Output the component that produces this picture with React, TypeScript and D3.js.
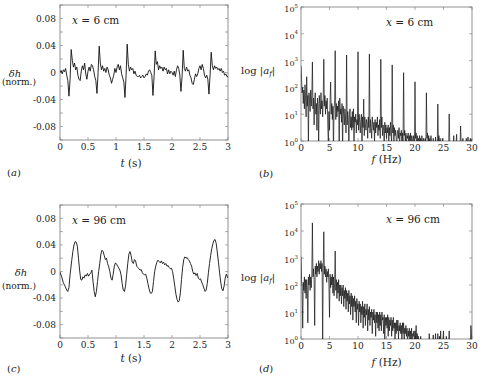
import React from "react";
import * as d3 from "d3";

// ---- data: time series (t in s, normalised δh) ----
const seriesA: [number, number][] = [
  [0.00,0.000],[0.02,0.003],[0.04,-0.002],[0.06,0.004],[0.08,0.001],[0.10,0.006],[0.12,-0.004],[0.14,-0.012],[0.16,-0.035],[0.18,-0.010],
  [0.20,0.034],[0.22,0.018],[0.24,0.008],[0.26,0.014],[0.28,0.004],[0.30,0.008],[0.32,-0.004],[0.34,-0.010],[0.36,-0.012],[0.38,0.002],
  [0.40,0.010],[0.42,0.004],[0.44,0.014],[0.46,-0.002],[0.48,-0.010],[0.50,0.002],[0.52,0.008],[0.54,0.002],[0.56,0.012],[0.58,0.010],
  [0.60,0.004],[0.62,-0.006],[0.64,-0.012],[0.66,-0.031],[0.68,0.000],[0.70,0.039],[0.72,0.014],[0.74,0.004],[0.76,0.010],[0.78,0.002],
  [0.80,0.006],[0.82,0.000],[0.84,0.008],[0.86,0.004],[0.88,-0.004],[0.90,-0.008],[0.92,-0.016],[0.94,-0.010],[0.96,-0.004],[0.98,0.006],
  [1.00,0.000],[1.02,0.008],[1.04,0.012],[1.06,0.004],[1.08,0.010],[1.10,-0.002],[1.12,-0.008],[1.14,-0.014],[1.16,-0.037],[1.18,-0.004],
  [1.20,0.042],[1.22,0.012],[1.24,0.002],[1.26,0.008],[1.28,0.004],[1.30,0.006],[1.32,-0.002],[1.34,0.002],[1.36,-0.004],[1.38,-0.006],
  [1.40,-0.006],[1.42,-0.004],[1.44,-0.008],[1.46,-0.006],[1.48,-0.004],[1.50,-0.008],[1.52,-0.006],[1.54,-0.002],[1.56,-0.004],[1.58,0.002],
  [1.60,0.004],[1.62,0.000],[1.64,-0.004],[1.66,-0.034],[1.68,-0.006],[1.70,0.032],[1.72,0.012],[1.74,0.016],[1.76,0.004],[1.78,0.010],
  [1.80,0.006],[1.82,0.008],[1.84,0.002],[1.86,0.008],[1.88,0.004],[1.90,0.006],[1.92,-0.002],[1.94,0.004],[1.96,-0.002],[1.98,0.002],
  [2.00,0.000],[2.02,-0.004],[2.04,0.002],[2.06,-0.006],[2.08,0.004],[2.10,0.010],[2.12,0.006],[2.14,-0.004],[2.16,-0.028],[2.18,-0.006],
  [2.20,0.033],[2.22,0.006],[2.24,0.002],[2.26,0.008],[2.28,0.002],[2.30,0.004],[2.32,-0.004],[2.34,-0.008],[2.36,-0.016],[2.38,-0.018],
  [2.40,-0.010],[2.42,-0.002],[2.44,-0.006],[2.46,-0.002],[2.48,0.006],[2.50,0.010],[2.52,0.004],[2.54,0.012],[2.56,0.006],[2.58,-0.004],
  [2.60,-0.008],[2.62,-0.004],[2.64,-0.010],[2.66,-0.032],[2.68,-0.004],[2.70,0.030],[2.72,0.010],[2.74,0.004],[2.76,0.010],[2.78,0.006],
  [2.80,0.008],[2.82,0.004],[2.84,0.006],[2.86,0.002],[2.88,0.006],[2.90,0.000],[2.92,0.002],[2.94,-0.004],[2.96,-0.002],[2.98,-0.006],
  [3.00,-0.006],
];

const seriesC: [number, number][] = [
  [0,-0.001],[0.03,-0.008],[0.06,-0.017],[0.09,-0.022],[0.12,-0.028],[0.14,-0.030],[0.16,-0.024],[0.18,-0.005],[0.21,0.017],[0.23,0.030],
  [0.25,0.040],[0.27,0.045],[0.29,0.044],[0.31,0.038],[0.33,0.020],[0.35,0.002],[0.37,-0.012],[0.39,-0.013],[0.41,-0.008],[0.43,-0.010],
  [0.45,-0.005],[0.47,-0.007],[0.49,-0.003],[0.51,-0.007],[0.53,-0.004],[0.55,-0.002],[0.57,0.002],[0.59,-0.015],[0.61,-0.030],[0.63,-0.038],
  [0.65,-0.030],[0.67,-0.015],[0.69,0.000],[0.71,0.012],[0.73,0.026],[0.75,0.032],[0.77,0.030],[0.79,0.024],[0.81,0.018],[0.83,0.020],
  [0.85,0.012],[0.87,0.007],[0.89,0.000],[0.91,-0.010],[0.93,-0.013],[0.95,-0.004],[0.97,0.008],[0.99,0.013],[1.01,0.011],[1.03,0.008],
  [1.05,0.005],[1.07,0.002],[1.09,-0.005],[1.11,-0.018],[1.13,-0.028],[1.15,-0.030],[1.17,-0.022],[1.19,-0.005],[1.21,0.012],[1.23,0.026],
  [1.25,0.030],[1.27,0.024],[1.29,0.014],[1.31,0.012],[1.33,0.018],[1.35,0.016],[1.37,0.008],[1.39,0.006],[1.41,0.004],[1.43,0.002],
  [1.45,0.003],[1.47,-0.002],[1.49,-0.004],[1.51,-0.005],[1.53,-0.004],[1.55,-0.010],[1.57,-0.018],[1.59,-0.026],[1.61,-0.032],[1.63,-0.033],
  [1.65,-0.030],[1.67,-0.015],[1.69,0.000],[1.71,0.008],[1.73,0.014],[1.75,0.017],[1.77,0.015],[1.79,0.013],[1.81,0.016],[1.83,0.012],
  [1.85,0.014],[1.87,0.010],[1.89,0.012],[1.91,0.008],[1.93,0.009],[1.95,0.006],[1.97,0.004],[1.99,0.005],[2.01,0.000],[2.03,-0.010],
  [2.05,-0.022],[2.07,-0.034],[2.09,-0.042],[2.11,-0.046],[2.13,-0.044],[2.15,-0.032],[2.17,-0.012],[2.19,0.006],[2.21,0.018],[2.23,0.022],
  [2.25,0.020],[2.27,0.021],[2.29,0.018],[2.31,0.016],[2.33,0.012],[2.35,0.008],[2.37,0.000],[2.39,-0.004],[2.41,-0.002],[2.43,-0.006],
  [2.45,-0.003],[2.47,-0.010],[2.49,-0.012],[2.51,-0.011],[2.53,-0.016],[2.55,-0.020],[2.57,-0.025],[2.59,-0.030],[2.61,-0.028],[2.63,-0.018],
  [2.65,-0.002],[2.67,0.012],[2.69,0.024],[2.71,0.034],[2.73,0.042],[2.75,0.047],[2.77,0.048],[2.79,0.042],[2.81,0.028],[2.83,0.014],
  [2.85,-0.002],[2.87,-0.016],[2.89,-0.026],[2.91,-0.029],[2.93,-0.022],[2.95,-0.010],[2.97,-0.004],[2.99,-0.008],[3.00,-0.010],
];

// ---- data: spectra, log10|a_f| sampled every FREQ_STEP Hz from 0 to 30 (one row per Hz) ----
const FREQ_STEP = 0.1;
const logAmpB = [
  2.8,2.3,1.8,2.0,1.4,1.9,1.2,2.1,1.6,0.9,
  2.4,1.3,1.7,-0.1,1.8,1.5,1.1,1.9,1.3,1.7,
  2.95,1.2,1.6,0.6,1.5,1.8,1.0,1.4,0.4,1.6,
  1.3,-0.2,1.7,1.4,1.0,1.8,1.2,1.5,0.9,1.6,
  3.05,1.3,1.7,1.0,1.5,1.2,1.6,0.6,-0.2,1.1,
  0.4,1.5,2.2,1.0,1.4,0.8,1.3,-0.3,1.2,1.5,
  3.37,0.8,1.4,0.9,1.3,1.1,1.5,-0.2,1.6,1.0,
  1.2,0.7,1.4,-0.3,1.3,1.0,0.6,1.2,0.9,0.3,
  3.21,0.6,1.1,0.8,-0.3,1.0,1.2,0.5,0.9,0.4,
  1.1,0.5,1.2,-0.3,0.9,0.7,1.0,0.3,0.8,0.6,
  3.33,0.4,1.0,0.7,0.3,0.8,1.0,-0.2,0.9,0.5,
  1.56,0.2,0.9,0.6,0.4,0.8,0.7,0.1,0.9,0.5,
  3.25,0.3,0.8,0.5,0.1,0.9,0.6,0.4,0.7,0.0,
  0.8,0.3,0.7,0.5,0.9,0.2,0.6,0.4,0.8,0.1,
  3.05,0.5,0.9,0.2,0.6,0.4,-0.2,0.7,0.3,0.6,
  0.1,0.5,0.3,0.6,0.0,0.5,0.2,0.7,0.3,-0.1,
  2.84,0.3,0.6,-0.1,0.5,0.2,0.4,0.1,-0.2,0.3,
  0.4,0.1,0.5,-0.2,0.3,0.2,0.4,0.0,0.3,-0.1,
  2.55,0.2,0.4,0.0,0.3,-0.2,0.2,0.1,0.3,-0.1,
  0.2,0.0,0.3,-0.3,0.2,0.1,-0.2,0.2,0.0,-0.3,
  2.21,0.1,0.3,-0.2,0.2,0.0,0.1,-0.3,0.2,0.0,
  0.1,-0.2,0.2,0.0,-0.3,0.1,0.0,-0.2,0.1,-0.3,
  1.80,0.1,0.3,-0.2,0.2,-0.1,0.1,-0.3,0.2,-0.1,
  0.0,-0.3,0.1,-0.2,0.0,-0.3,0.15,-0.2,0.0,-0.3,
  1.38,0.0,0.2,-0.3,0.1,-0.2,0.0,-0.3,0.1,-0.2,
  -0.1,-0.3,0.0,-0.2,-0.3,0.0,-0.2,-0.3,-0.1,-0.3,
  1.01,-0.1,0.0,-0.3,-0.2,-0.3,0.0,-0.2,0.2,-0.3,
  -0.2,-0.3,-0.1,0.25,-0.3,-0.2,-0.3,0.0,-0.3,-0.2,
  0.56,-0.1,0.0,-0.3,0.1,-0.2,-0.3,0.0,-0.2,-0.3,
  0.1,-0.3,-0.1,0.15,-0.3,0.0,-0.2,0.1,-0.3,0.05,
  0.05,
];
const logAmpD = [
  3.05,2.2,1.9,0.4,2.1,1.8,2.3,1.7,2.2,1.5,
  2.2,1.9,0.6,2.3,2.0,2.4,1.8,2.3,1.9,2.4,
  4.3,2.3,2.6,2.2,0.5,2.7,2.4,2.8,2.3,2.7,
  2.5,2.9,2.4,2.8,2.6,2.9,2.5,2.8,-0.2,2.6,
  3.97,2.4,2.7,2.3,2.6,2.1,2.5,2.3,2.6,2.0,
  0.8,2.4,1.9,2.3,2.0,2.4,1.7,2.3,1.6,2.1,
  3.26,1.8,2.2,1.5,2.1,1.7,2.2,1.4,2.0,1.6,
  2.0,1.3,1.9,1.6,2.0,1.2,1.8,1.5,1.9,1.1,
  1.8,1.4,1.7,1.0,1.8,1.3,1.6,0.9,1.7,1.2,
  1.6,0.7,1.5,1.2,1.6,1.0,1.4,0.6,1.5,1.1,
  1.3,0.5,1.4,1.0,1.3,0.6,1.2,0.9,1.4,0.4,
  1.2,0.8,1.3,0.5,1.1,0.9,1.3,0.3,1.1,0.7,
  1.2,0.5,1.0,0.8,1.1,0.2,1.0,0.7,1.1,0.6,
  0.9,0.1,1.0,0.6,1.0,0.4,0.9,0.3,1.0,0.5,
  0.9,0.3,1.0,0.7,0.8,0.2,0.9,0.0,0.8,0.5,
  0.8,0.4,0.9,0.1,0.8,0.3,0.7,0.5,0.8,0.1,
  0.7,0.3,0.8,0.4,0.6,-0.1,0.6,0.2,0.7,0.3,
  0.7,0.0,0.5,0.3,0.6,0.2,0.5,-0.2,0.6,0.2,
  0.6,-0.1,0.4,0.2,0.5,0.1,0.4,-0.2,0.3,0.1,
  0.4,-0.2,0.3,0.0,0.4,-0.3,0.2,0.1,0.3,-0.2,
  0.3,0.0,0.5,-0.2,0.2,-0.1,0.1,-0.3,0.0,-0.2,
  0.1,-0.3,0.0,-0.2,-0.3,-0.1,-0.3,-0.2,-0.3,-0.2,
  -0.3,-0.2,-0.3,-0.1,-0.3,0.2,-0.3,-0.2,-0.3,-0.2,
  -0.3,-0.2,0.15,-0.3,-0.2,-0.3,0.2,-0.3,-0.2,-0.3,
  0.2,-0.3,-0.2,0.1,-0.3,0.3,-0.3,-0.2,-0.3,0.0,
  0.3,-0.3,-0.2,-0.3,-0.2,0.1,-0.3,-0.2,-0.3,-0.2,
  0.3,-0.3,-0.2,-0.3,-0.2,-0.3,-0.2,-0.3,-0.2,-0.3,
  -0.2,-0.3,-0.2,-0.3,-0.2,-0.3,-0.2,-0.3,-0.2,-0.3,
  -0.2,-0.3,-0.2,-0.3,-0.2,-0.3,-0.2,-0.3,-0.2,-0.3,
  -0.2,-0.3,-0.2,-0.3,-0.2,-0.3,-0.2,-0.3,0.5,0.2,
  -0.2,
];

const timeTicks = [0, 0.5, 1, 1.5, 2, 2.5, 3];
const timeTickLabels = ["0", "0.5", "1", "1.5", "2", "2.5", "3"];
const dhTicks = [0.08, 0.04, 0, -0.04, -0.08];
const dhTickLabels = ["0.08", "0.04", "0", "-0.04", "-0.08"];
const dhMinorTicks = [-0.1, -0.08, -0.06, -0.04, -0.02, 0, 0.02, 0.04, 0.06, 0.08, 0.1];
const freqTicks = [0, 5, 10, 15, 20, 25, 30];
const decadeTicks = [0, 1, 2, 3, 4, 5];

const FONT = "'DejaVu Serif', 'Liberation Serif', serif";
const FRAME = "#777";

type Box = { l: number; r: number; t: number; b: number };

function Frame({ box }: { box: Box }) {
  return (
    <rect x={box.l} y={box.t} width={box.r - box.l} height={box.b - box.t}
      fill="none" stroke={FRAME} strokeWidth={0.8} />
  );
}

function TimePanel({ box, data, id, letter, xLabelY, annot, letterY, dh }: any) {
  const x = d3.scaleLinear().domain([0, 3]).range([box.l, box.r]);
  const y = d3.scaleLinear().domain([-0.1, 0.1]).range([box.b, box.t]);
  const line = d3.line<[number, number]>().x((d) => x(d[0])).y((d) => y(d[1]));
  return (
    <g fontFamily={FONT} fill="#222">
      <defs>
        <clipPath id={id}><rect x={box.l} y={box.t} width={box.r - box.l} height={box.b - box.t} /></clipPath>
      </defs>
      <Frame box={box} />
      {timeTicks.map((t) => (
        <g key={"xt" + t} stroke={FRAME} strokeWidth={0.6}>
          <line x1={x(t)} x2={x(t)} y1={box.b} y2={box.b - 3} />
          <line x1={x(t)} x2={x(t)} y1={box.t} y2={box.t + 3} />
        </g>
      ))}
      {dhMinorTicks.map((v) => (
        <g key={"yt" + v} stroke={FRAME} strokeWidth={0.6}>
          <line x1={box.l} x2={box.l + 3} y1={y(v)} y2={y(v)} />
          <line x1={box.r} x2={box.r - 3} y1={y(v)} y2={y(v)} />
        </g>
      ))}
      <path d={line(data) || ""} fill="none" stroke="#111" strokeWidth={0.9} clipPath={`url(#${id})`} />
      {timeTicks.map((t, i) => (
        <text key={"xl" + t} x={x(t)} y={box.b + 10} fontSize={9} textAnchor="middle">{timeTickLabels[i]}</text>
      ))}
      {dhTicks.map((v, i) => (
        <text key={"yl" + v} x={box.l - 4} y={y(v) + 3.2} fontSize={9} textAnchor="end">{dhTickLabels[i]}</text>
      ))}
      <text x={131} y={xLabelY} fontSize={10.5} textAnchor="middle">
        <tspan fontStyle="italic">t</tspan> (s)
      </text>
      <text x={box.l + 12} y={box.t + 19} fontSize={10.5}>
        <tspan fontStyle="italic">x</tspan> = {annot} cm
      </text>
      <text x={7} y={letterY} fontSize={10}>(<tspan fontStyle="italic">{letter}</tspan>)</text>
      <text x={dh.x1} y={dh.y1} fontSize={10} textAnchor="middle"><tspan fontStyle="italic">δh</tspan></text>
      <text x={dh.x2} y={dh.y2} fontSize={9} textAnchor="middle">(norm.)</text>
    </g>
  );
}

function SpecPanel({ box, data, id, letter, xLabelY, annot, letterY, logY }: any) {
  const x = d3.scaleLinear().domain([0, 30]).range([box.l, box.r]);
  const y = d3.scaleLog().domain([1, 1e5]).range([box.b, box.t]);
  const pts: [number, number][] = data.map((l: number, i: number) => [i * FREQ_STEP, Math.pow(10, l)]);
  const line = d3.line<[number, number]>().x((d) => x(d[0])).y((d) => y(d[1]));
  return (
    <g fontFamily={FONT} fill="#222">
      <defs>
        <clipPath id={id}><rect x={box.l} y={box.t} width={box.r - box.l} height={box.b - box.t} /></clipPath>
      </defs>
      <Frame box={box} />
      {freqTicks.map((f) => (
        <g key={"xt" + f} stroke={FRAME} strokeWidth={0.6}>
          <line x1={x(f)} x2={x(f)} y1={box.b} y2={box.b - 3} />
          <line x1={x(f)} x2={x(f)} y1={box.t} y2={box.t + 3} />
        </g>
      ))}
      {decadeTicks.map((k) => (
        <g key={"yt" + k} stroke={FRAME} strokeWidth={0.6}>
          <line x1={box.l} x2={box.l + 3} y1={y(Math.pow(10, k))} y2={y(Math.pow(10, k))} />
          <line x1={box.r} x2={box.r - 3} y1={y(Math.pow(10, k))} y2={y(Math.pow(10, k))} />
        </g>
      ))}
      <path d={line(pts) || ""} fill="none" stroke="#111" strokeWidth={0.7} clipPath={`url(#${id})`} />
      {freqTicks.map((f) => (
        <text key={"xl" + f} x={x(f)} y={box.b + 9.5} fontSize={9} textAnchor="middle">{f}</text>
      ))}
      {decadeTicks.map((k) => (
        <text key={"yl" + k} x={box.l - 3} y={y(Math.pow(10, k)) + 5} fontSize={8} textAnchor="end">
          10<tspan fontSize={5.5} dy={-4.5}>{k}</tspan>
        </text>
      ))}
      <text x={(box.l + box.r) / 2} y={xLabelY} fontSize={10.5} textAnchor="middle">
        <tspan fontStyle="italic">f</tspan> (Hz)
      </text>
      <text x={386} y={box.t + 18.5} fontSize={10.5}>
        <tspan fontStyle="italic">x</tspan> = {annot} cm
      </text>
      <text x={259} y={letterY} fontSize={10}>(<tspan fontStyle="italic">{letter}</tspan>)</text>
      <text x={241} y={logY} fontSize={10}>
        log |<tspan fontStyle="italic">a</tspan><tspan fontStyle="italic" fontSize={7} dy={2}>f</tspan><tspan dy={-2}>|</tspan>
      </text>
    </g>
  );
}

export default function App() {
  return (
    <svg width={497} height={390} viewBox="0 0 497 390"
      style={{ position: "absolute", left: 0, top: 0, background: "#fff" }}>
      <rect x={0} y={0} width={497} height={390} fill="#fff" />
      <TimePanel box={{ l: 60, r: 228, t: 5, b: 140 }} data={seriesA} id="ca" letter="a"
        xLabelY={167} annot="6" letterY={175.5}
        dh={{ x1: 15, y1: 76.5, x2: 19, y2: 85 }} />
      <SpecPanel box={{ l: 301, r: 472, t: 7, b: 141 }} data={logAmpB} id="cb" letter="b"
        xLabelY={163} annot="6" letterY={176.5} logY={73.5} />
      <TimePanel box={{ l: 60, r: 228, t: 205, b: 338 }} data={seriesC} id="cc" letter="c"
        xLabelY={362} annot="96" letterY={371.5}
        dh={{ x1: 21, y1: 276, x2: 19, y2: 289 }} />
      <SpecPanel box={{ l: 301, r: 472, t: 204, b: 339 }} data={logAmpD} id="cd" letter="d"
        xLabelY={366} annot="96" letterY={371.5} logY={280.5} />
    </svg>
  );
}
